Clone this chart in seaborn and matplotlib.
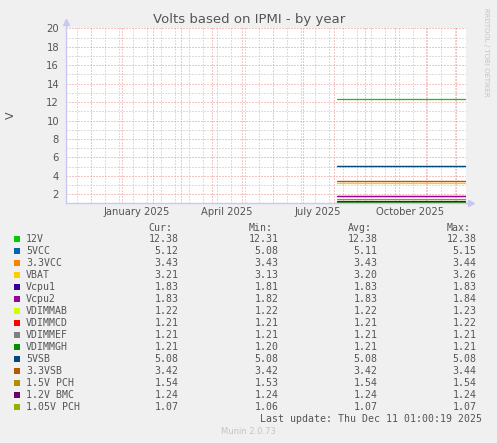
"""
Munin style "Volts based on IPMI - by year" graph, redrawn with seaborn.
"""
import pandas as pd
import matplotlib
matplotlib.use("Agg")
import matplotlib.pyplot as plt
import matplotlib.dates as mdates
import matplotlib.ticker as mticker
from matplotlib.patches import Rectangle
import seaborn as sns

# ---------------------------------------------------------------
# Data
# ---------------------------------------------------------------
SERIES = ["12V", "5VCC", "3.3VCC", "VBAT", "Vcpu1", "Vcpu2", "VDIMMAB", "VDIMMCD",
          "VDIMMEF", "VDIMMGH", "5VSB", "3.3VSB", "1.5V PCH", "1.2V BMC", "1.05V PCH"]
CUR = [12.38, 5.12, 3.43, 3.21, 1.83, 1.83, 1.22, 1.21, 1.21, 1.21, 5.08, 3.42, 1.54, 1.24, 1.07]
MIN = [12.31, 5.08, 3.43, 3.13, 1.81, 1.82, 1.22, 1.21, 1.21, 1.20, 5.08, 3.42, 1.53, 1.24, 1.06]
AVG = [12.38, 5.11, 3.43, 3.20, 1.83, 1.83, 1.22, 1.21, 1.21, 1.21, 5.08, 3.42, 1.54, 1.24, 1.07]
MAX = [12.38, 5.15, 3.44, 3.26, 1.83, 1.84, 1.23, 1.22, 1.21, 1.21, 5.08, 3.44, 1.54, 1.24, 1.07]
COLORS = ["#00CC00", "#0066B3", "#FF8000", "#FFCC00", "#330099", "#990099", "#CCFF00",
          "#FF0000", "#808080", "#008F00", "#00487D", "#B35A00", "#B38F00", "#6B006B", "#8FB300"]

DATA_START = pd.Timestamp("2025-08-04 00:00")
DATA_END = pd.Timestamp("2025-12-11 01:00")
VIEW_START = pd.Timestamp("2024-11-06 01:00")
Y_MIN, Y_MAX = 1.06, 20

TICK_LABELS = ["January 2025", "April 2025", "July 2025", "October 2025"]
TICK_MONTHS = ["2025-01-01", "2025-04-01", "2025-07-01", "2025-10-01"]
GRID_ANCHOR = "2024-11-03"   # sunday, minor grid every 2 weeks

TITLE = "Volts based on IPMI - by year"
LAST_UPDATE = "Last update: Thu Dec 11 01:00:19 2025"

rows = []
for name, v in zip(SERIES, AVG):
    rows.append({"time": DATA_START, "volts": v, "series": name})
    rows.append({"time": DATA_END, "volts": v, "series": name})
df = pd.DataFrame(rows)

# ---------------------------------------------------------------
# Style
# ---------------------------------------------------------------
sns.set_style("white")
plt.rcParams["font.family"] = ["DejaVu Sans"]
BG = "#F0F0F0"
TXT = "#555555"
AXC = "#C8C8F0"
W, H = 497, 443

fig = plt.figure(figsize=(W / 100, H / 100), dpi=100, facecolor=BG)
ax = fig.add_axes([66 / W, 1 - 203 / H, 400 / W, (203 - 28.3) / H])
ax.set_facecolor("white")

sns.lineplot(data=df, x="time", y="volts", hue="series", hue_order=SERIES,
             palette=COLORS, linewidth=0.9, estimator=None, legend=False, ax=ax)

ax.set_xlim(VIEW_START, DATA_END)
ax.set_ylim(Y_MIN, Y_MAX)
ax.set_xlabel("")
ax.set_ylabel("")

# grid: red major / grey minor, rrdtool-like dotted
ax.xaxis.set_major_locator(mdates.MonthLocator())
minor_dates = pd.date_range(GRID_ANCHOR, DATA_END, freq="14D")
ax.xaxis.set_minor_locator(mticker.FixedLocator(mdates.date2num(minor_dates)))
ax.xaxis.set_major_formatter(mticker.NullFormatter())
ax.yaxis.set_major_locator(mticker.MultipleLocator(2))
ax.yaxis.set_minor_locator(mticker.MultipleLocator(1))
dot = (0, (1, 2))
ax.grid(which="minor", color="#BDBDBD", linestyle=dot, linewidth=0.72, zorder=0)
ax.grid(which="major", color="#E98C8C", linestyle=dot, linewidth=0.72, zorder=0)
ax.set_axisbelow(True)

ax.tick_params(axis="y", which="major", length=2, width=0.7, color="#F0A0A0",
               labelsize=7.2, labelcolor=TXT, pad=3)
ax.tick_params(axis="x", which="major", length=2, width=0.7, color="#F0A0A0")
ax.tick_params(which="minor", length=0)

for s in ["top", "right"]:
    ax.spines[s].set_visible(False)
for s in ["left", "bottom"]:
    ax.spines[s].set_color(AXC)
    ax.spines[s].set_linewidth(1.0)

# axis arrows
ax.plot([0, 0], [1, 1 + 6 / 174.7], color=AXC, lw=1, transform=ax.transAxes, clip_on=False)
ax.plot([0], [1 + 6 / 174.7], marker="^", ms=4, color=AXC, transform=ax.transAxes, clip_on=False)
ax.plot([1, 1 + 5 / 400], [0, 0], color=AXC, lw=1, transform=ax.transAxes, clip_on=False)
ax.plot([1 + 5 / 400], [0], marker=">", ms=4, color=AXC, transform=ax.transAxes, clip_on=False)

# month labels sit mid-month
for lab, m in zip(TICK_LABELS, TICK_MONTHS):
    xpos = pd.Timestamp(m) + pd.Timedelta(days=15)
    ax.text(xpos, -9 / 174.7, lab, transform=ax.get_xaxis_transform(),
            ha="center", va="center", fontsize=7.2, color=TXT)

# ---------------------------------------------------------------
# Texts around the graph
# ---------------------------------------------------------------
def fx(x):
    return x / W

def fy(y):
    return 1 - y / H

fig.text(fx(249), fy(19), TITLE, ha="center", va="center", fontsize=9.5, color=TXT)
fig.text(fx(11), fy(115), "V", ha="center", va="center", rotation=90, fontsize=8, color=TXT)
fig.text(fx(486), fy(52), "RRDTOOL / TOBI OETIKER", ha="center", va="center",
         rotation=270, fontsize=5, color="#C4C4C4")

MONO = {"family": "DejaVu Sans Mono", "fontsize": 7.1, "color": TXT}
col_right = [178.3, 278.3, 377.7, 476.7]
headers = ["Cur:", "Min:", "Avg:", "Max:"]
for h, xr in zip(headers, col_right):
    fig.text(fx(xr - 6), fy(228.3), h, ha="right", va="center", **MONO)

for i, name in enumerate(SERIES):
    yrow = 239.3 + 12 * i
    fig.add_artist(Rectangle((fx(14), fy(yrow + 3)), 6 / W, 6 / H,
                             transform=fig.transFigure, color=COLORS[i], lw=0))
    fig.text(fx(26), fy(yrow), name, ha="left", va="center", **MONO)
    for vals, xr in zip([CUR, MIN, AVG, MAX], col_right):
        fig.text(fx(xr), fy(yrow), f"{vals[i]:.2f}", ha="right", va="center", **MONO)

fig.text(fx(482.3), fy(419), LAST_UPDATE, ha="right", va="center", **MONO)
fig.text(fx(248), fy(432), "Munin 2.0.73", ha="center", va="center", fontsize=6, color="#C4C4C4")

fig.savefig("out.png", dpi=100, facecolor=BG)
